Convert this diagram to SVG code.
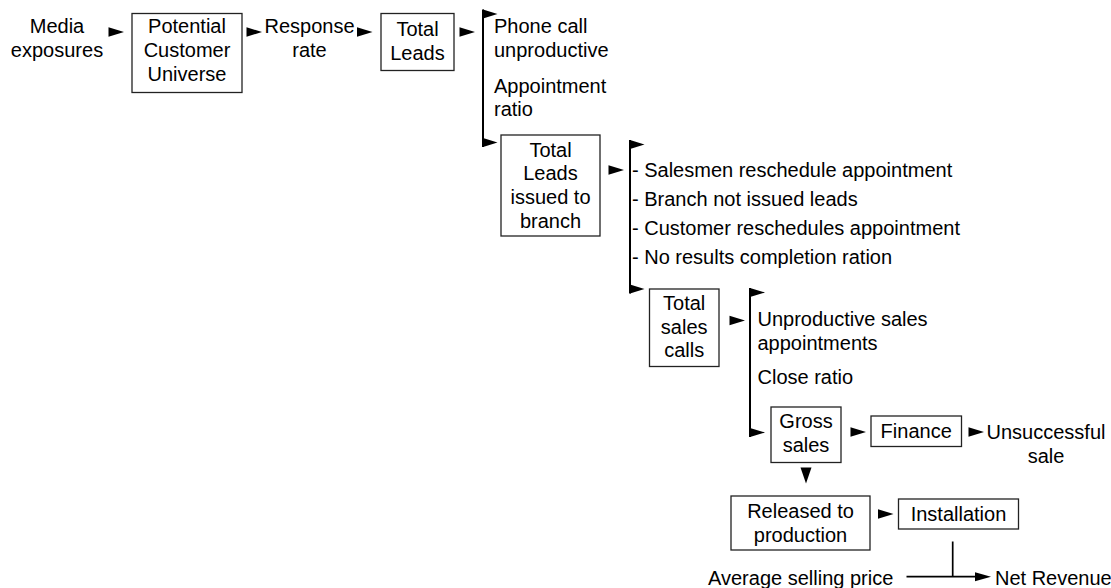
<svg xmlns="http://www.w3.org/2000/svg" width="1111" height="588" viewBox="0 0 1111 588">
<style>
  text { font-family: "Liberation Sans", Arial, sans-serif; font-size: 20px; fill: #000; }
  .c { text-anchor: middle; }
  .box { fill: #fff; stroke: #222; stroke-width: 1.3; }
  .ln { fill: none; stroke: #000; stroke-width: 2; }
  .ln2 { fill: none; stroke: #000; stroke-width: 1.7; }
  .tri { fill: #000; }
</style>
<defs>
  <polygon id="ar" points="0,-4.8 15.5,0 0,4.8" class="tri"/>
</defs>
<rect width="1111" height="588" fill="#fff"/>

<g id="connectors">
  <use href="#ar" x="108.5" y="32"/>
  <use href="#ar" x="246.5" y="32"/>
  <use href="#ar" x="357" y="32"/>
  <use href="#ar" x="459.5" y="32"/>
  <line class="ln" x1="483" y1="9.5" x2="483" y2="147"/>
  <polygon class="tri" points="483,9.5 497.5,14 483,18.5"/>
  <polygon class="tri" points="483,138 497.5,142.5 483,147"/>
  <use href="#ar" x="608.5" y="170"/>
  <line class="ln" x1="630" y1="140" x2="630" y2="293.5"/>
  <polygon class="tri" points="630,140 644.5,144.5 630,149"/>
  <polygon class="tri" points="630,284.5 644.5,289 630,293.5"/>
  <use href="#ar" x="729.5" y="320.5"/>
  <line class="ln" x1="750" y1="288" x2="750" y2="437"/>
  <polygon class="tri" points="750,288 765,292.5 750,297"/>
  <polygon class="tri" points="750,428 765,432.5 750,437"/>
  <use href="#ar" x="850.5" y="432"/>
  <use href="#ar" x="968.5" y="432"/>
  <polygon class="tri" points="800.5,467.5 811.5,467.5 806,483.5"/>
  <use href="#ar" x="878" y="514"/>
  <line class="ln2" x1="952.7" y1="541.5" x2="952.7" y2="576.7"/>
  <line class="ln2" x1="906.5" y1="576.7" x2="978" y2="576.7"/>
  <polygon class="tri" points="975,572.2 991,576.7 975,581.2"/>
</g>

<g id="media-exposures">
  <text class="c" x="57" y="32.8">Media</text>
  <text class="c" x="57" y="56.5">exposures</text>
</g>

<g id="potential-customer-universe">
  <rect class="box" x="132" y="13.5" width="110" height="79"/>
  <text class="c" x="187" y="33">Potential</text>
  <text class="c" x="187" y="57">Customer</text>
  <text class="c" x="187" y="81">Universe</text>
</g>

<g id="response-rate">
  <text class="c" x="309.5" y="33">Response</text>
  <text class="c" x="309.5" y="57">rate</text>
</g>

<g id="total-leads">
  <rect class="box" x="381" y="13.5" width="73" height="57"/>
  <text class="c" x="417.5" y="35.8">Total</text>
  <text class="c" x="417.5" y="59.6">Leads</text>
</g>

<g id="phone-call">
  <text x="494" y="33">Phone call</text>
  <text x="494" y="56.8">unproductive</text>
  <text x="494" y="92.6">Appointment</text>
  <text x="494" y="116.3">ratio</text>
</g>

<g id="total-leads-issued">
  <rect class="box" x="501" y="135" width="99" height="101"/>
  <text class="c" x="550.5" y="156.5">Total</text>
  <text class="c" x="550.5" y="180.2">Leads</text>
  <text class="c" x="550.5" y="203.9">issued to</text>
  <text class="c" x="550.5" y="227.6">branch</text>
</g>

<g id="branch-reasons">
  <text x="632" y="177">- Salesmen reschedule appointment</text>
  <text x="632" y="206">- Branch not issued leads</text>
  <text x="632" y="235">- Customer reschedules appointment</text>
  <text x="632" y="264">- No results completion ration</text>
</g>

<g id="total-sales-calls">
  <rect class="box" x="649.5" y="289" width="69.5" height="77.5"/>
  <text class="c" x="684.2" y="310">Total</text>
  <text class="c" x="684.2" y="333.6">sales</text>
  <text class="c" x="684.2" y="357.3">calls</text>
</g>

<g id="sales-reasons">
  <text x="757.5" y="326.3">Unproductive sales</text>
  <text x="757.5" y="349.8">appointments</text>
  <text x="757.5" y="384">Close ratio</text>
</g>

<g id="gross-sales">
  <rect class="box" x="771" y="407" width="70" height="55.5"/>
  <text class="c" x="806" y="428.4">Gross</text>
  <text class="c" x="806" y="452">sales</text>
</g>

<g id="finance">
  <rect class="box" x="871" y="416" width="90.5" height="30.5"/>
  <text class="c" x="916.2" y="438.4">Finance</text>
</g>

<g id="unsuccessful-sale">
  <text class="c" x="1046" y="438.8">Unsuccessful</text>
  <text class="c" x="1046" y="462.5">sale</text>
</g>

<g id="released-to-production">
  <rect class="box" x="731" y="496" width="139" height="54"/>
  <text class="c" x="800.5" y="518.3">Released to</text>
  <text class="c" x="800.5" y="542">production</text>
</g>

<g id="installation">
  <rect class="box" x="898.5" y="499" width="120" height="30"/>
  <text class="c" x="958.5" y="520.5">Installation</text>
</g>

<g id="average-selling-price">
  <text x="708" y="585">Average selling price</text>
</g>

<g id="net-revenue">
  <text x="995" y="584.8">Net Revenue</text>
</g>
</svg>
